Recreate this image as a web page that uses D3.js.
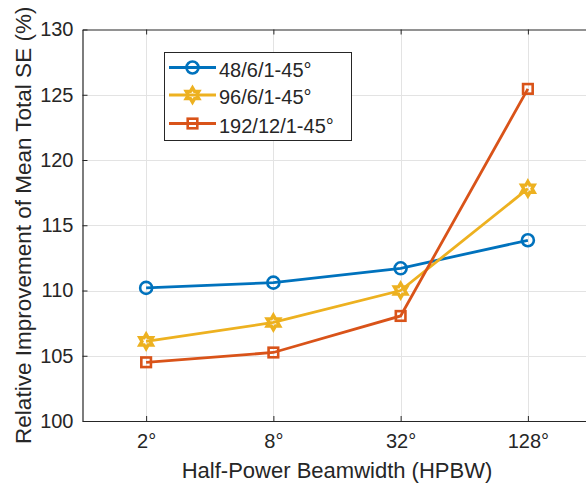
<!DOCTYPE html>
<html>
<head>
<meta charset="utf-8">
<script src="https://cdn.jsdelivr.net/npm/d3@7"></script>
<style>
    body { margin: 0; background: #fff; }
    text { font-family: "Liberation Sans", Arial, Helvetica, sans-serif; fill: #262626; }
</style>
</head>
<body>
<div id="chart"></div>
<script>

// Data
var beamwidths = ["2°", "8°", "32°", "128°"];
var yTicks = [100, 105, 110, 115, 120, 125, 130];
var seriesNames = ["48/6/1-45°", "96/6/1-45°", "192/12/1-45°"];
var se48 = [110.2, 110.6, 111.7, 113.85];
var se96 = [106.1, 107.55, 110.0, 117.8];
var se192 = [104.5, 105.25, 108.05, 125.45];


// --> CREATE SVG DRAWING AREA
var width = 586,
    height = 483;

var margin = { left: 82.5, top: 29.5, right: 591.5, bottom: 421 };

var svg = d3.select("#chart").append("svg")
    .attr("width", width)
    .attr("height", height);


// Scales
var x = d3.scaleLinear()
    .domain([0.5, beamwidths.length + 0.5])
    .range([margin.left, margin.right]);

var y = d3.scaleLinear()
    .domain([100, 130])
    .range([margin.bottom, margin.top]);

var series = [
    { name: seriesNames[0], values: se48, color: "#0072BD", marker: "circle" },
    { name: seriesNames[1], values: se96, color: "#EDB120", marker: "hexagram" },
    { name: seriesNames[2], values: se192, color: "#D95319", marker: "square" }
];


// Grid
var grid = svg.append("g").attr("class", "grid");

grid.selectAll(".vgrid")
    .data(beamwidths)
    .enter().append("line")
    .attr("x1", function(d, i) { return Math.round(x(i + 1)) + 0.5; })
    .attr("x2", function(d, i) { return Math.round(x(i + 1)) + 0.5; })
    .attr("y1", margin.top)
    .attr("y2", margin.bottom)
    .attr("stroke", "#e3e3e3")
    .attr("stroke-width", 1);

grid.selectAll(".hgrid")
    .data(yTicks.slice(1, -1))
    .enter().append("line")
    .attr("x1", margin.left)
    .attr("x2", margin.right)
    .attr("y1", function(d) { return Math.round(y(d)) + 0.5; })
    .attr("y2", function(d) { return Math.round(y(d)) + 0.5; })
    .attr("stroke", "#e3e3e3")
    .attr("stroke-width", 1);


// Axes (MATLAB style: inward ticks, box on)
var xAxis = d3.axisBottom(x)
    .tickValues(d3.range(1, beamwidths.length + 1))
    .tickFormat(function(d) { return beamwidths[d - 1]; })
    .tickSizeInner(-5)
    .tickSizeOuter(0)
    .tickPadding(13);

var yAxis = d3.axisLeft(y)
    .tickValues(yTicks)
    .tickSizeInner(-5)
    .tickSizeOuter(0)
    .tickPadding(9);

var gx = svg.append("g")
    .attr("transform", "translate(0," + margin.bottom + ")")
    .call(xAxis);

var gy = svg.append("g")
    .attr("transform", "translate(" + margin.left + ",0)")
    .call(yAxis);

var gxTop = svg.append("g")
    .attr("transform", "translate(0," + margin.top + ")")
    .call(d3.axisTop(x).tickValues(d3.range(1, beamwidths.length + 1)).tickFormat("").tickSizeInner(-5).tickSizeOuter(0));

[gx, gy, gxTop].forEach(function(g) {
    g.selectAll("path.domain").attr("stroke", "#262626").attr("stroke-width", 1.2);
    g.selectAll(".tick line").attr("stroke", "#262626").attr("stroke-width", 1);
    g.selectAll(".tick text")
        .style("font-size", "20px")
        .attr("fill", "#262626");
});


// Axis labels
svg.append("text")
    .attr("x", (margin.left + margin.right) / 2)
    .attr("y", 478)
    .attr("text-anchor", "middle")
    .style("font-size", "22px")
    .text("Half-Power Beamwidth (HPBW)");

svg.append("text")
    .attr("transform", "translate(31," + ((margin.top + margin.bottom) / 2) + ") rotate(-90)")
    .attr("text-anchor", "middle")
    .style("font-size", "22.5px")
    .text("Relative Improvement of Mean Total SE (%)");


// Marker shapes
function hexagram(R) {
    var pts = [];
    for (var k = 0; k < 12; k++) {
        var r = (k % 2 === 0) ? R : R / Math.sqrt(3);
        var a = -Math.PI / 2 + k * Math.PI / 6;
        pts.push([r * Math.cos(a), r * Math.sin(a)]);
    }
    return "M" + pts.join("L") + "Z";
}

function drawMarker(g, type, color) {
    var sw = 2.6;
    if (type === "circle") {
        g.append("circle").attr("r", 6);
    } else if (type === "square") {
        g.append("rect").attr("x", -4.8).attr("y", -4.8).attr("width", 9.6).attr("height", 9.6);
    } else {
        g.append("path").attr("d", hexagram(7.2));
        sw = 3.4;
    }
    g.selectAll("*")
        .attr("fill", "none")
        .attr("stroke", color)
        .attr("stroke-width", sw)
        .attr("stroke-linejoin", "miter");
}


// Lines
var line = d3.line()
    .x(function(d, i) { return x(i + 1); })
    .y(function(d) { return y(d); });

var lines = svg.selectAll(".series")
    .data(series)
    .enter().append("g")
    .attr("class", "series");

lines.append("path")
    .attr("d", function(d) { return line(d.values); })
    .attr("fill", "none")
    .attr("stroke", function(d) { return d.color; })
    .attr("stroke-width", 2.8);

lines.each(function(s) {
    d3.select(this).selectAll(".marker")
        .data(s.values)
        .enter().append("g")
        .attr("class", "marker")
        .attr("transform", function(d, i) { return "translate(" + x(i + 1) + "," + y(d) + ")"; })
        .each(function() { drawMarker(d3.select(this), s.marker, s.color); });
});


// Legend
var legend = svg.append("g").attr("class", "legend");

legend.append("rect")
    .attr("x", 164.5)
    .attr("y", 52.5)
    .attr("width", 187)
    .attr("height", 88)
    .attr("fill", "#fff")
    .attr("stroke", "#262626")
    .attr("stroke-width", 1);

var rows = [67.5, 95, 123.5];

var entry = legend.selectAll(".entry")
    .data(series)
    .enter().append("g")
    .attr("class", "entry")
    .attr("transform", function(d, i) { return "translate(0," + rows[i] + ")"; });

entry.append("line")
    .attr("x1", 169)
    .attr("x2", 216)
    .attr("stroke", function(d) { return d.color; })
    .attr("stroke-width", 2.8);

entry.each(function(s) {
    var m = d3.select(this).append("g").attr("transform", "translate(192.5,0)");
    drawMarker(m, s.marker, s.color);
});

entry.append("text")
    .attr("x", 219)
    .attr("y", 9)
    .style("font-size", "20px")
    .text(function(d) { return d.name; });

</script>
</body>
</html>
